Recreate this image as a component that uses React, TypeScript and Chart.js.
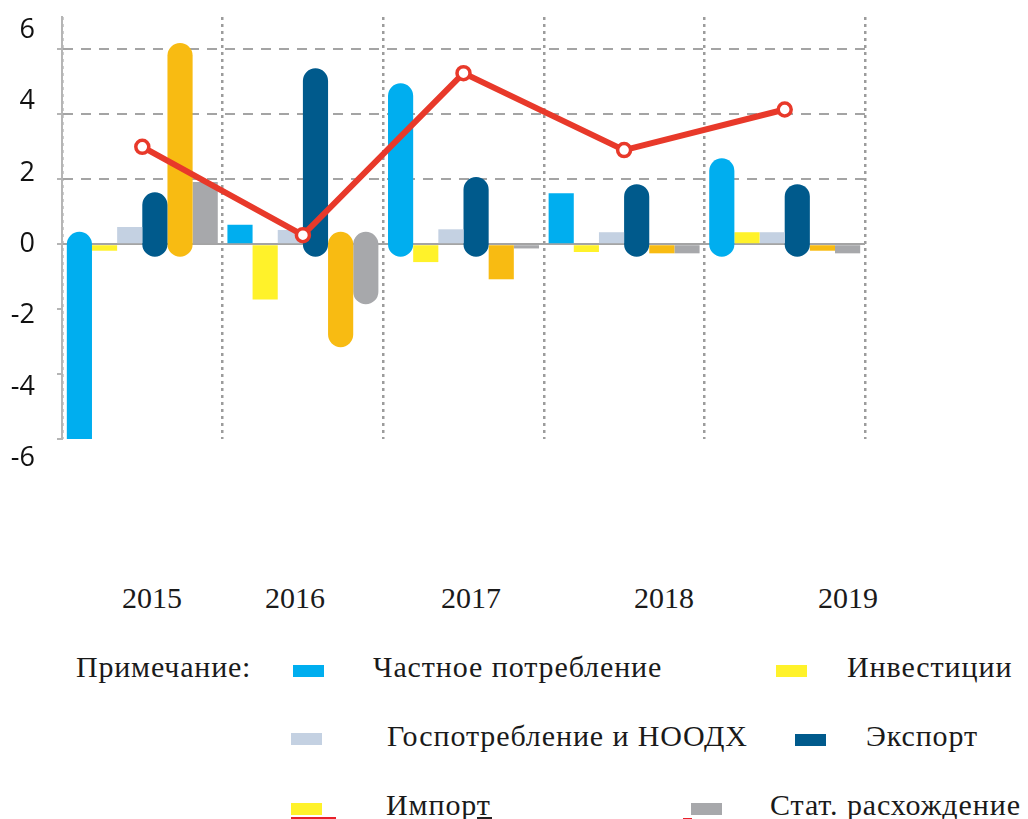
import React, { useEffect, useRef } from "react";
import { Chart, registerables } from "chart.js";

Chart.register(...registerables);

// ---------- data ----------
const YEARS = ["2015", "2016", "2017", "2018", "2019"];
const Y_TICKS = [-6, -4, -2, 0, 2, 4, 6];
const SERIES_NAMES = [
  "Частное потребление",
  "Инвестиции",
  "Госпотребление и НООДХ",
  "Экспорт",
  "Импорт",
  "Стат. расхождение",
];
const PRIVATE_CONS = [-6.6, 0.6, 4.96, 1.57, 2.65];
const INVESTMENT = [-0.2, -1.7, -0.55, -0.24, 0.37];
const GOV_CONS = [0.53, 0.44, 0.46, 0.37, 0.37];
const EXPORTS = [1.6, 5.42, 2.07, 1.85, 1.85];
const IMPORTS = [6.2, -3.17, -1.08, -0.28, -0.2];
const STAT_DISC = [1.92, -1.85, -0.13, -0.28, -0.28];
const GDP_GROWTH = [3.0, 0.28, 5.27, 2.9, 4.15];
const NOTE_LABEL = "Примечание:";

// ---------- styles ----------
const BAR_COLORS = ["#00AEEF", "#FFF22A", "#C4D1E2", "#005A8C", "#F8BB12", "#A7A8AB"];
const LEGEND_COLORS = ["#00AEEF", "#FFF22A", "#C4D1E2", "#005A8C", "#FFF22A", "#A7A8AB"];
// which bars are drawn as rounded "pills"
const PILL_FLAGS = [
  [true, false, true, false, true],
  [false, false, false, false, false],
  [false, false, false, false, false],
  [true, true, true, true, true],
  [true, true, false, false, false],
  [false, true, false, false, false],
];
const PILL_OVERSHOOT = 0.385; // rounded cap passing beyond the zero line (value units)
const LABEL_SPREAD = 1.1;
const LINE_RED = "#E8392A";
const GRID_GRAY = "#A4A4A4";
const SERIF = '"Liberation Serif", "Times New Roman", serif';

const SERIES_VALUES = [PRIVATE_CONS, INVESTMENT, GOV_CONS, EXPORTS, IMPORTS, STAT_DISC];

const yLabelPlugin = {
  id: "yLabels",
  afterDraw(chart: any) {
    const y = chart.scales.y;
    const ctx = chart.ctx;
    ctx.save();
    ctx.font = '27px "Open Sans", sans-serif';
    ctx.fillStyle = "#111";
    ctx.textAlign = "right";
    ctx.textBaseline = "middle";
    Y_TICKS.forEach((v) => {
      ctx.fillText(String(v), 35, y.getPixelForValue(v * LABEL_SPREAD));
    });
    ctx.restore();
  },
};

export default function App() {
  const ref = useRef<HTMLCanvasElement>(null);

  useEffect(() => {
    const barSets = SERIES_VALUES.map((vals, s) => ({
      type: "bar" as const,
      label: SERIES_NAMES[s],
      data: vals.map((v, i) =>
        PILL_FLAGS[s][i] ? [v > 0 ? -PILL_OVERSHOOT : PILL_OVERSHOOT, v] : v
      ),
      backgroundColor: BAR_COLORS[s],
      borderWidth: 0,
      borderSkipped: false,
      borderRadius: (c: any) => (PILL_FLAGS[s][c.dataIndex] ? 30 : 0),
      barPercentage: 1,
      categoryPercentage: 0.94,
      order: 1,
      clip: 0,
    }));

    const chart = new Chart(ref.current as HTMLCanvasElement, {
      type: "bar",
      data: {
        labels: YEARS,
        datasets: [
          {
            type: "line" as const,
            label: "ВВП",
            data: GDP_GROWTH,
            borderColor: LINE_RED,
            borderWidth: 6,
            pointRadius: 6.5,
            pointBorderWidth: 3.5,
            pointBackgroundColor: "#FFFFFF",
            pointBorderColor: LINE_RED,
            tension: 0,
            order: 0,
            clip: false,
          } as any,
          ...barSets,
        ],
      },
      options: {
        animation: false,
        responsive: false,
        devicePixelRatio: 1,
        layout: { padding: { left: 0, top: 17, right: 163, bottom: 31 } },
        plugins: { legend: { display: false }, tooltip: { enabled: false } },
        scales: {
          x: {
            type: "category",
            offset: true,
            afterFit: (s: any) => {
              s.height = 0;
            },
            ticks: { display: false },
            grid: {
              offset: true,
              color: "#9C9C9C",
              lineWidth: 2.5,
              drawTicks: false,
            },
            border: { display: false, dash: [3, 4] },
          },
          y: {
            min: -6,
            max: 7,
            afterFit: (s: any) => {
              s.width = 62;
            },
            afterBuildTicks: (s: any) => {
              s.ticks = Y_TICKS.map((v) => ({ value: v }));
            },
            ticks: { display: false },
            grid: {
              color: (c: any) =>
                c.tick && c.tick.value < 0 ? "rgba(0,0,0,0)" : GRID_GRAY,
              lineWidth: 2,
              drawTicks: true,
              tickLength: 5,
              tickWidth: 2,
              tickColor: "#B5B5B5",
              tickBorderDash: [],
            },
            border: {
              display: true,
              color: "#B5B5B5",
              width: 2,
              dash: (c: any) => (c.tick && c.tick.value === 0 ? [] : [10, 8]),
            } as any,
          },
        },
      } as any,
      plugins: [yLabelPlugin],
    });
    return () => chart.destroy();
  }, []);

  const text = (
    content: React.ReactNode,
    left: number,
    top: number,
    key: string,
    spacing = 0
  ) => (
    <div
      key={key}
      style={{
        position: "absolute",
        left,
        top,
        fontFamily: SERIF,
        fontSize: 30,
        lineHeight: "30px",
        letterSpacing: spacing,
        color: "#1a1a1a",
        whiteSpace: "nowrap",
      }}
    >
      {content}
    </div>
  );

  const swatch = (color: string, left: number, top: number, w: number, h: number, key: string) => (
    <div key={key} style={{ position: "absolute", left, top, width: w, height: h, background: color }} />
  );

  const YEAR_X = [122, 265, 441, 634, 818];
  const LEGEND_POS = [
    { sx: 293, sy: 665, tx: 373, ty: 652 },
    { sx: 776, sy: 665, tx: 847, ty: 652 },
    { sx: 291, sy: 733, tx: 387, ty: 721 },
    { sx: 795, sy: 734, tx: 866, ty: 721 },
    { sx: 291, sy: 803, tx: 386, ty: 790 },
    { sx: 691, sy: 803, tx: 770, ty: 790 },
  ];

  return (
    <div
      style={{
        position: "absolute",
        left: 0,
        top: 0,
        width: 1028,
        height: 819,
        background: "#fff",
        overflow: "hidden",
      }}
    >
      <canvas ref={ref} width={1028} height={470} style={{ position: "absolute", left: 0, top: 0 }} />
      {YEARS.map((y, i) => text(y, YEAR_X[i], 583, "y" + i))}
      {text(NOTE_LABEL, 76, 652, "note", 0.8)}
      {SERIES_NAMES.map((name, i) => (
        <React.Fragment key={"l" + i}>
          {swatch(LEGEND_COLORS[i], LEGEND_POS[i].sx, LEGEND_POS[i].sy, 31, 12, "s" + i)}
          {text(name, LEGEND_POS[i].tx, LEGEND_POS[i].ty, "t" + i, 0.9)}
        </React.Fragment>
      ))}
      {swatch("#E8202A", 291, 817, 45, 2, "u1")}
      {swatch("#222", 477, 817, 15, 2, "u2")}
      {swatch("#E8202A", 683, 818, 9, 2, "u3")}
    </div>
  );
}
